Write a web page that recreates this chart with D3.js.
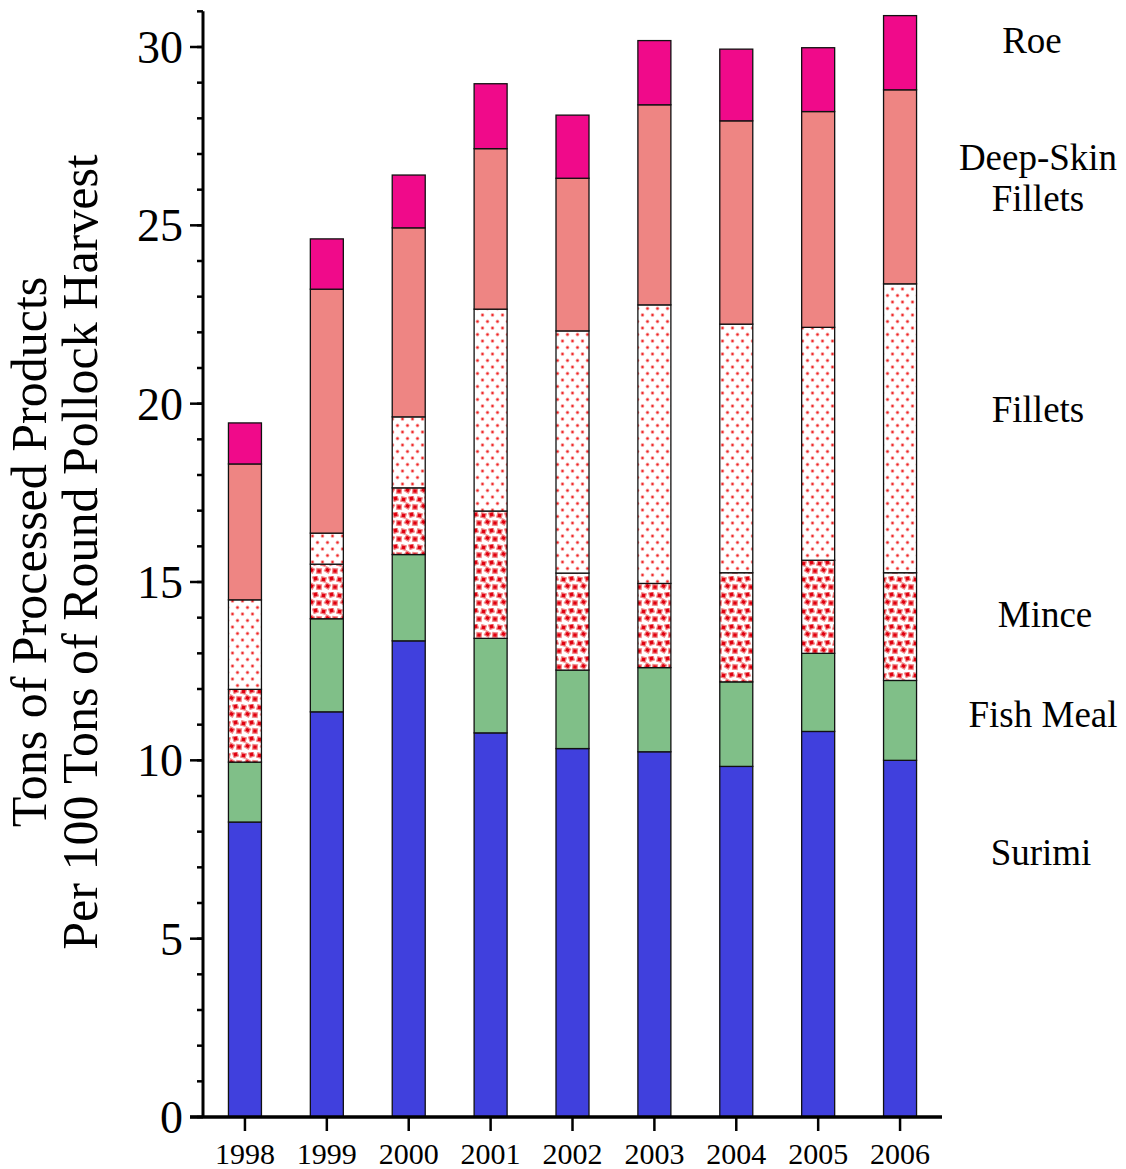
<!DOCTYPE html>
<html>
<head>
<meta charset="utf-8">
<script src="https://cdn.jsdelivr.net/npm/d3@7"></script>
<style>
body { margin: 0; background: #fff; }
text { font-family: "Palatino Linotype", "Book Antiqua", Palatino, "Liberation Serif", serif; fill: #000; }
</style>
</head>
<body>
<svg id="main" width="1126" height="1169"></svg>
<script>
var years = ["1998", "1999", "2000", "2001", "2002", "2003", "2004", "2005", "2006"];
var products = ["Surimi", "Fish Meal", "Mince", "Fillets", "Deep-Skin Fillets", "Roe"];
// cumulative tops, per product
var surimi   = [8.27, 11.36, 13.35, 10.77, 10.33, 10.24, 9.83, 10.81, 10.00];
var fishMeal = [9.95, 13.97, 15.77, 13.42, 12.53, 12.60, 12.20, 13.00, 12.24];
var mince    = [11.99, 15.50, 17.64, 16.99, 15.25, 14.96, 15.26, 15.61, 15.26];
var fillets  = [14.50, 16.37, 19.63, 22.65, 22.04, 22.77, 22.23, 22.14, 23.36];
var deepSkin = [18.31, 23.21, 24.93, 27.15, 26.32, 28.38, 27.93, 28.19, 28.80];
var roe      = [19.46, 24.62, 26.41, 28.97, 28.09, 30.18, 29.94, 29.98, 30.88];
var yTicks = [0, 5, 10, 15, 20, 25, 30];
var fills = ["#4040dd", "#80bf88", "url(#mince)", "url(#fillets)", "#ee8583", "#f00a8a"];
var labels = [
	{lines: ["Roe"], x: 1032, y: 53},
	{lines: ["Deep-Skin", "Fillets"], x: 1038, y: 170},
	{lines: ["Fillets"], x: 1038, y: 422},
	{lines: ["Mince"], x: 1045, y: 627},
	{lines: ["Fish Meal"], x: 1043, y: 727},
	{lines: ["Surimi"], x: 1041, y: 865}
];

var svg = d3.select("#main");
var defs = svg.append("defs");

var pf = defs.append("pattern").attr("id", "fillets").attr("patternUnits", "userSpaceOnUse").attr("width", 10).attr("height", 13);
pf.append("rect").attr("width", 10).attr("height", 13).attr("fill", "#fff");
pf.append("circle").attr("cx", 2.5).attr("cy", 3).attr("r", 1.9).attr("fill", "#f7a8a8");
pf.append("circle").attr("cx", 7.5).attr("cy", 9.5).attr("r", 1.9).attr("fill", "#f7a8a8");
pf.append("circle").attr("cx", 2.5).attr("cy", 3).attr("r", 1.1).attr("fill", "#f02020");
pf.append("circle").attr("cx", 7.5).attr("cy", 9.5).attr("r", 1.1).attr("fill", "#f02020");

var pm = defs.append("pattern").attr("id", "mince").attr("patternUnits", "userSpaceOnUse").attr("width", 16).attr("height", 16);
pm.append("rect").attr("width", 16).attr("height", 16).attr("fill", "#fff");
[[3.5, 3.5, 15], [11.5, 2.5, -20], [7.5, 10, 30], [15, 11, 5], [-1, 11, 5]].forEach(function(s) {
	pm.append("rect").attr("x", s[0] - 2.3).attr("y", s[1] - 2.3).attr("width", 4.6).attr("height", 4.6)
		.attr("transform", "rotate(" + s[2] + " " + s[0] + " " + s[1] + ")")
		.attr("fill", "#e00010").attr("stroke", "#f28888").attr("stroke-width", 1.2);
});

var x = d3.scalePoint().domain(years).range([204, 941]).padding(0.5);
var y = d3.scaleLinear().domain([0, 31]).range([1117, 1117 - 31 * 1070 / 30]);
var barW = 33;

var tops = [surimi, fishMeal, mince, fillets, deepSkin, roe];
var segs = [];
years.forEach(function(yr, i) {
	var base = 0;
	tops.forEach(function(t, j) {
		segs.push({year: yr, y0: base, y1: t[i], k: j});
		base = t[i];
	});
});

svg.append("g").selectAll("rect").data(segs).enter().append("rect")
	.attr("x", function(d) { return x(d.year) - barW / 2; })
	.attr("width", barW)
	.attr("y", function(d) { return y(d.y1); })
	.attr("height", function(d) { return y(d.y0) - y(d.y1); })
	.attr("fill", function(d) { return fills[d.k]; })
	.attr("stroke", "#111").attr("stroke-width", 1.3);

// y axis
var ya = svg.append("g").attr("transform", "translate(203,0)");
ya.append("line").attr("x1", 0).attr("x2", 0).attr("y1", y(0)).attr("y2", y(31)).attr("stroke", "#000").attr("stroke-width", 3);
ya.selectAll(".minor").data(d3.range(0, 32)).enter().append("line")
	.attr("x1", -6).attr("x2", 0).attr("y1", function(d) { return y(d); }).attr("y2", function(d) { return y(d); })
	.attr("stroke", "#000").attr("stroke-width", 2.5);
ya.selectAll(".major").data(yTicks).enter().append("line")
	.attr("x1", -13).attr("x2", 0).attr("y1", function(d) { return y(d); }).attr("y2", function(d) { return y(d); })
	.attr("stroke", "#000").attr("stroke-width", 2.5);
ya.selectAll("text").data(yTicks).enter().append("text")
	.attr("x", -20).attr("y", function(d) { return y(d); }).attr("dy", "0.35em")
	.attr("text-anchor", "end").attr("font-size", 46).text(function(d) { return d; });

// x axis
var xa = svg.append("g");
xa.append("line").attr("x1", 190).attr("x2", 942).attr("y1", y(0)).attr("y2", y(0)).attr("stroke", "#000").attr("stroke-width", 3.5);
xa.selectAll(".tick").data(years).enter().append("line")
	.attr("x1", function(d) { return x(d); }).attr("x2", function(d) { return x(d); })
	.attr("y1", y(0)).attr("y2", y(0) + 14).attr("stroke", "#000").attr("stroke-width", 2.5);
xa.selectAll("text").data(years).enter().append("text")
	.attr("x", function(d) { return x(d); }).attr("y", 1164)
	.attr("text-anchor", "middle").attr("font-size", 30).text(function(d) { return d; });

// y title
var yt = svg.append("text").attr("transform", "translate(0,552) rotate(-90)").attr("text-anchor", "middle").attr("font-size", 50);
yt.append("tspan").attr("x", 0).attr("y", 46).text("Tons of Processed Products");
yt.append("tspan").attr("x", 0).attr("y", 97).text("Per 100 Tons of Round Pollock Harvest");

// product labels at right
labels.forEach(function(l) {
	var t = svg.append("text").attr("text-anchor", "middle").attr("font-size", 37);
	l.lines.forEach(function(s, i) {
		t.append("tspan").attr("x", l.x).attr("y", l.y + i * 41).text(s);
	});
});
</script>
</body>
</html>
